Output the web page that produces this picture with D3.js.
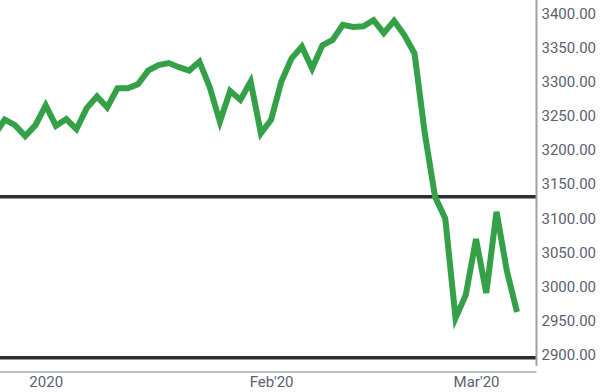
<!DOCTYPE html>
<html>
<head>
<meta charset="utf-8">
<script src="https://cdn.jsdelivr.net/npm/d3@7"></script>
<style>
  html, body { margin: 0; padding: 0; background: #fff; }
  svg { display: block; }
  .tick text { font-family: Roboto, "Noto Sans", sans-serif; font-size: 15px; fill: #5b6070; }
</style>
</head>
<body>
<div id="chart"></div>
<script>
// daily closes (trading days, futures calendar)
const dates = [
  "2019-12-24", "2019-12-26", "2019-12-27", "2019-12-30", "2019-12-31",
  "2020-01-02", "2020-01-03", "2020-01-06", "2020-01-07", "2020-01-08", "2020-01-09", "2020-01-10",
  "2020-01-13", "2020-01-14", "2020-01-15", "2020-01-16", "2020-01-17",
  "2020-01-20", "2020-01-21", "2020-01-22", "2020-01-23", "2020-01-24",
  "2020-01-27", "2020-01-28", "2020-01-29", "2020-01-30", "2020-01-31",
  "2020-02-03", "2020-02-04", "2020-02-05", "2020-02-06", "2020-02-07",
  "2020-02-10", "2020-02-11", "2020-02-12", "2020-02-13", "2020-02-14",
  "2020-02-17", "2020-02-18", "2020-02-19", "2020-02-20", "2020-02-21",
  "2020-02-24", "2020-02-25", "2020-02-26", "2020-02-27", "2020-02-28",
  "2020-03-02", "2020-03-03", "2020-03-04", "2020-03-05", "2020-03-06"
];
const closes = [
  3222, 3244, 3236, 3220, 3236,
  3265, 3235, 3245, 3230, 3261, 3278, 3262,
  3290, 3290, 3296, 3316, 3324,
  3327, 3321, 3316, 3329, 3292,
  3241, 3286, 3273, 3300, 3224,
  3244, 3300, 3334, 3351, 3319,
  3353, 3361, 3383, 3380, 3381,
  3390, 3371, 3389, 3368, 3341,
  3224, 3131, 3099, 2953, 2987,
  3069, 2990, 3109, 3023, 2962
];
// horizontal support / resistance levels
const levels = [3131, 2895];
// axis ticks
const yTicks = [2900, 2950, 3000, 3050, 3100, 3150, 3200, 3250, 3300, 3350, 3400];
const xTickDates = ["2020-01-02", "2020-02-03", "2020-03-02"];
const xTickLabels = ["2020", "Feb'20", "Mar'20"];

const width = 606, height = 392;
const plotRight = 536.5;
const axisY = 372;

const svg = d3.select("#chart").append("svg")
    .attr("width", width)
    .attr("height", height);

const x = d3.scalePoint()
    .domain(dates)
    .range([-5.5, 517]);

const y = d3.scaleLinear()
    .domain([2900, 3400])
    .range([354.3, 13.3]);

const plot = svg.append("g");

plot.append("clipPath").attr("id", "clip")
  .append("rect")
    .attr("x", 0).attr("y", 0)
    .attr("width", plotRight).attr("height", axisY);

// level lines
plot.selectAll(".level")
  .data(levels)
  .join("line")
    .attr("class", "level")
    .attr("x1", 0)
    .attr("x2", plotRight)
    .attr("y1", d => y(d))
    .attr("y2", d => y(d))
    .attr("stroke", "#2b2e35")
    .attr("stroke-width", 3.5);

// price line
const line = d3.line()
    .x((d, i) => x(dates[i]))
    .y(d => y(d));

plot.append("path")
    .datum(closes)
    .attr("clip-path", "url(#clip)")
    .attr("fill", "none")
    .attr("stroke", "#34a048")
    .attr("stroke-width", 6)
    .attr("d", line);

// right axis line
svg.append("line")
    .attr("x1", plotRight).attr("x2", plotRight)
    .attr("y1", 0).attr("y2", 366)
    .attr("stroke", "#9ea2a9")
    .attr("stroke-width", 2);

// bottom axis line
svg.append("line")
    .attr("x1", 0).attr("x2", plotRight)
    .attr("y1", axisY).attr("y2", axisY)
    .attr("stroke", "#a7abb2")
    .attr("stroke-width", 1.5);

// y axis labels
const yAxis = svg.append("g")
    .attr("transform", `translate(${plotRight}, 0)`)
    .call(d3.axisRight(y).tickValues(yTicks).tickFormat(d3.format(".2f")).tickSize(0).tickPadding(5));
yAxis.select(".domain").remove();
yAxis.selectAll("text").attr("dy", "0.34em");

// x axis labels
const xAxis = svg.append("g")
    .attr("transform", `translate(0, ${axisY})`)
    .call(d3.axisBottom(x).tickValues(xTickDates)
        .tickFormat((d, i) => xTickLabels[i]).tickSize(0).tickPadding(4));
xAxis.select(".domain").remove();
</script>
</body>
</html>
